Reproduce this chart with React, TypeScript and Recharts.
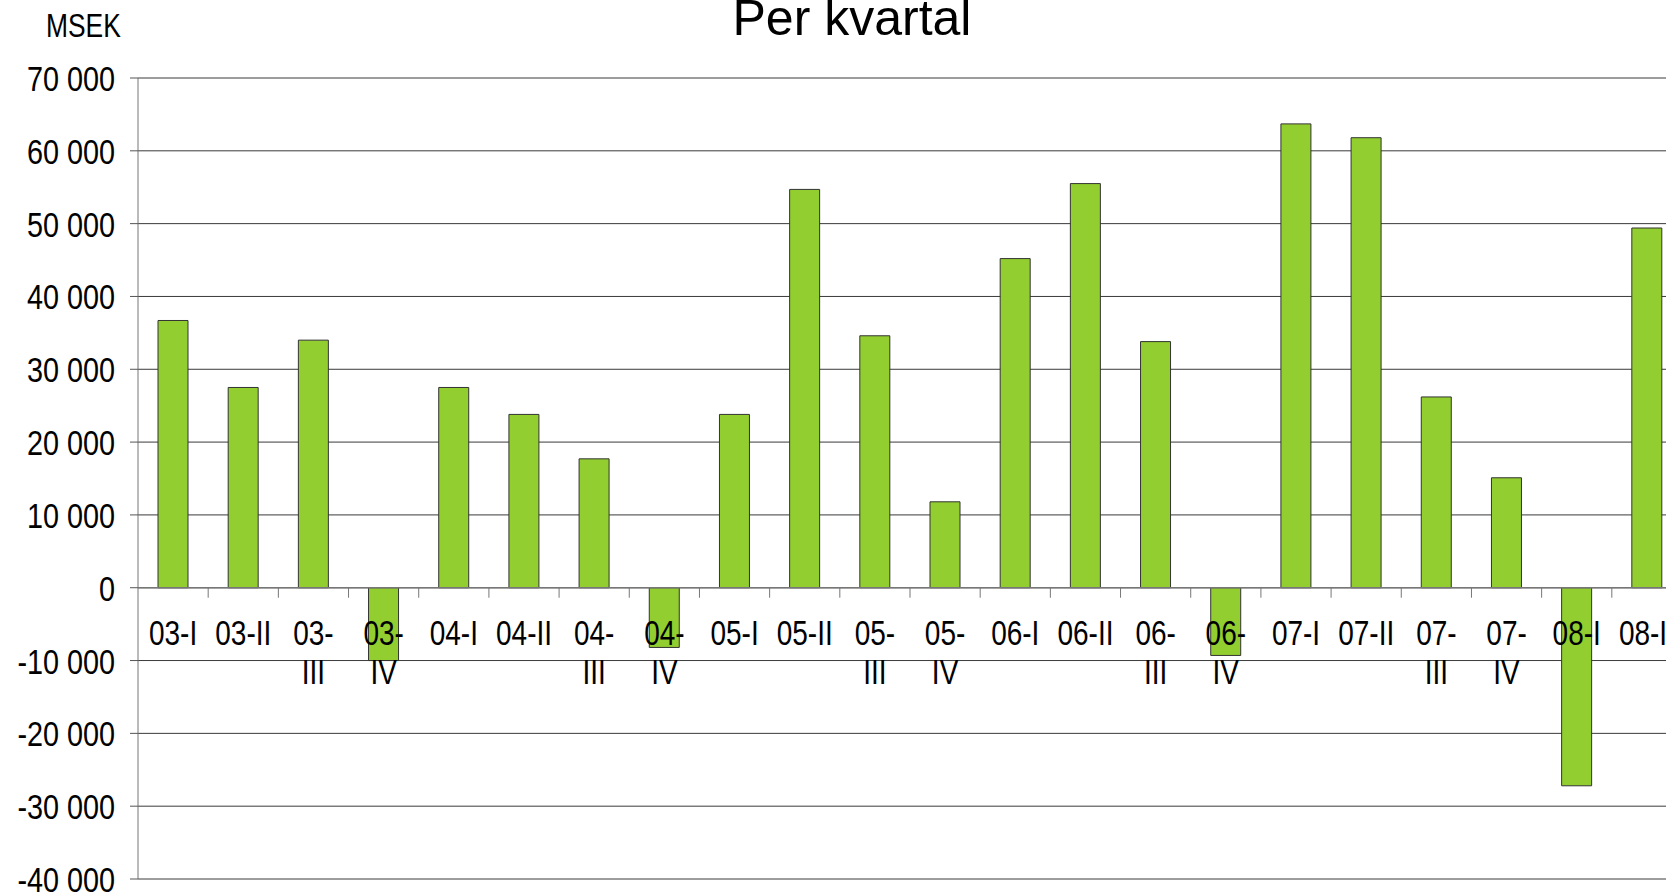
import { BarChart, Bar, XAxis, YAxis, CartesianGrid, ReferenceLine } from 'recharts'

const categories = [
  '03-I', '03-II', '03-III', '03-IV',
  '04-I', '04-II', '04-III', '04-IV',
  '05-I', '05-II', '05-III', '05-IV',
  '06-I', '06-II', '06-III', '06-IV',
  '07-I', '07-II', '07-III', '07-IV',
  '08-I', '08-II',
]

const values = [
  36700, 27500, 34000, -10000,
  27500, 23800, 17700, -8200,
  23800, 54700, 34600, 11800,
  45200, 55500, 33800, -9300,
  63700, 61800, 26200, 15100,
  -27200, 49400,
]

const yTicks = [-40000, -30000, -20000, -10000, 0, 10000, 20000, 30000, 40000, 50000, 60000, 70000]

const data = categories.map((name, i) => ({ name, value: values[i] }))

const CHART_W = 1682
const CHART_H = 894
const TOP = 78
const BOTTOM = 14
const AXIS_W = 138
const PLOT_H = CHART_H - TOP - BOTTOM - 1
const CAT_W = (CHART_W - AXIS_W) / categories.length
const Y_MIN = yTicks[0]
const Y_MAX = yTicks[yTicks.length - 1]
const Y0 = TOP + (PLOT_H * Y_MAX) / (Y_MAX - Y_MIN)

// no narrow font installed, so squeeze Liberation Sans horizontally
const FONT = "'Liberation Sans', Arial, sans-serif"
const SQUEEZE = 0.8

const fmt = (v: number) => String(v).replace(/\B(?=(\d{3})+(?!\d))/g, ' ')

function NarrowText({ x, y, anchor, size, children }: any) {
  return (
    <text
      transform={`translate(${x},${y}) scale(${SQUEEZE},1)`}
      textAnchor={anchor}
      fontSize={size}
      fontFamily={FONT}
      fill="#000"
    >
      {children}
    </text>
  )
}

function CatTick(props: any) {
  const { x, payload } = props
  const label: string = payload.value
  const wrap = /-(III|IV)$/.test(label)
  const idx = label.indexOf('-')
  const first = wrap ? label.slice(0, idx + 1) : label
  const second = wrap ? label.slice(idx + 1) : null
  const tx = x + CAT_W / 2
  return (
    <g>
      <line x1={tx} x2={tx} y1={Y0} y2={Y0 + 10} stroke="#777" />
      <NarrowText x={x} y={Y0 + 57} anchor="middle" size={35}>{first}</NarrowText>
      {second && <NarrowText x={x} y={Y0 + 96} anchor="middle" size={35}>{second}</NarrowText>}
    </g>
  )
}

function ValTick(props: any) {
  const { x, y, payload } = props
  return (
    <NarrowText x={x} y={y + 13} anchor="end" size={36}>
      {fmt(payload.value)}
    </NarrowText>
  )
}

export default function App() {
  return (
    <div style={{ position: 'fixed', left: 0, top: 0, width: 1666, height: 894, overflow: 'hidden', background: '#fff' }}>
      <div
        style={{
          position: 'absolute', left: 852, top: -7, transform: 'translateX(-50%)',
          fontFamily: FONT, fontSize: 50, lineHeight: 1, whiteSpace: 'nowrap',
        }}
      >
        Per kvartal
      </div>
      <div
        style={{
          position: 'absolute', left: 46, top: 9, transform: `scaleX(${SQUEEZE})`, transformOrigin: 'left top',
          fontFamily: FONT, fontSize: 33, lineHeight: 1,
        }}
      >
        MSEK
      </div>
      <BarChart
        width={CHART_W}
        height={CHART_H}
        data={data}
        margin={{ top: TOP, right: 0, bottom: BOTTOM, left: 0 }}
        barSize={30}
      >
        <CartesianGrid horizontal vertical={false} stroke="#3a3a3a" />
        <XAxis
          dataKey="name"
          height={1}
          axisLine={false}
          tickLine={false}
          interval={0}
          tick={<CatTick />}
        />
        <YAxis
          width={AXIS_W}
          domain={[Y_MIN, Y_MAX]}
          ticks={yTicks}
          interval={0}
          tickSize={8}
          tickMargin={15}
          axisLine={{ stroke: '#777' }}
          tickLine={{ stroke: '#555' }}
          tick={<ValTick />}
        />
        <ReferenceLine y={0} stroke="#777" strokeWidth={1.5} />
        <Bar dataKey="value" fill="#92CE2F" stroke="#333" strokeWidth={1} isAnimationActive={false} />
      </BarChart>
    </div>
  )
}
